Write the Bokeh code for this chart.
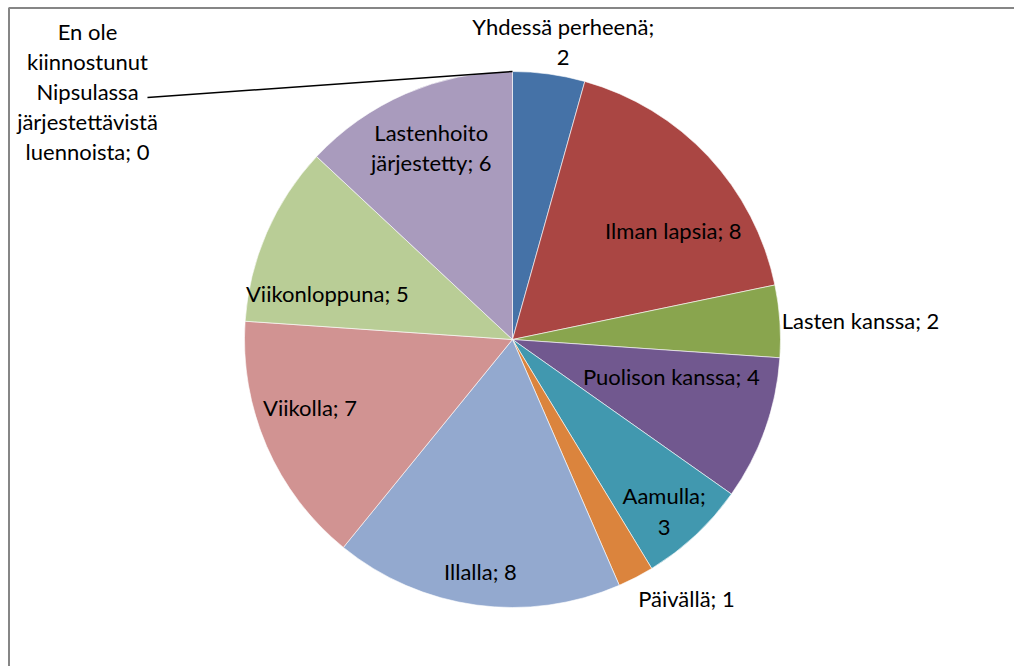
import math
from bokeh.plotting import figure
from bokeh.models import Range1d, ColumnDataSource
from bokeh.core.properties import value
from bokeh.embed import file_html
from bokeh.resources import INLINE

# ---- data ----
categories = ["Yhdessä perheenä", "Ilman lapsia", "Lasten kanssa", "Puolison kanssa",
              "Aamulla", "Päivällä", "Illalla", "Viikolla", "Viikonloppuna",
              "Lastenhoito järjestetty",
              "En ole kiinnostunut Nipsulassa järjestettävistä luennoista"]
values = [2, 8, 2, 4, 3, 1, 8, 7, 5, 6, 0]
label_texts = ["Yhdessä perheenä;\n2", "Ilman lapsia; 8", "Lasten kanssa; 2",
               "Puolison kanssa; 4", "Aamulla;\n3", "Päivällä; 1", "Illalla; 8",
               "Viikolla; 7", "Viikonloppuna; 5", "Lastenhoito\njärjestetty; 6",
               "En ole\nkiinnostunut\nNipsulassa\njärjestettävistä\nluennoista; 0"]
colors = ["#4572A7", "#AA4643", "#89A54E", "#71588F", "#4198AF", "#DB843D",
          "#93A9CF", "#D19392", "#B9CD96", "#A99BBD", "#2C4D75"]

# ---- layout (label placement, Excel "best fit" imitation) ----
W, H = 1014, 666
cx, cy, R = 512, 327, 268
label_rf = [1.12, 0.72, 1.30, 0.61, 0.86, 1.17, 0.88, 0.80, 0.71, 0.77]
label_dth = [1.9, 9.5, 1.1, -5.8, 1.9, -6.3, 0.0, 4.3, -10.2, 0.3]
label_dy = 2
zero_label_xy = (87, 575)       # outside label for the zero slice
leader_end = (147, 569)

total = float(sum(values))
starts, ends, mids, wcols = [], [], [], []
cum = 0.0
for v, c in zip(values, colors):
    a0 = cum / total * 360.0
    cum += v
    a1 = cum / total * 360.0
    mids.append((a0 + a1) / 2.0)
    if v > 0:
        starts.append(math.radians(90 - a0))
        ends.append(math.radians(90 - a1))
        wcols.append(c)

p = figure(width=W, height=H, output_backend="svg", toolbar_location=None,
           x_range=Range1d(0, W), y_range=Range1d(0, H), min_border=0)
p.axis.visible = False
p.xgrid.visible = False
p.ygrid.visible = False
p.outline_line_color = None
p.background_fill_color = "white"

# chart-area border (top and left edges visible in the reference)
p.line(x=[8.5, 8.5, W], y=[0, H - 7.5, H - 7.5], line_color="#868686", line_width=2)

src = ColumnDataSource(dict(start=starts, end=ends, color=wcols))
p.wedge(x=cx, y=cy, radius=R, start_angle="start", end_angle="end",
        direction="clock", fill_color="color", line_color="white",
        line_width=0.6, source=src)

lx, ly = [], []
for i in range(len(values) - 1):
    th = math.radians(mids[i] + label_dth[i])
    d = R * label_rf[i]
    lx.append(cx + d * math.sin(th))
    ly.append(cy + d * math.cos(th) + label_dy)
lx.append(zero_label_xy[0])
ly.append(zero_label_xy[1])

# leader line for zero-value slice
th0 = math.radians(mids[-1])
p.line(x=[leader_end[0], cx + R * math.sin(th0)],
       y=[leader_end[1], cy + R * math.cos(th0)], line_color="black", line_width=1.5)

tsrc = ColumnDataSource(dict(x=lx, y=ly, t=label_texts))
p.text(x="x", y="y", text="t", source=tsrc, text_align="center",
       text_baseline="middle", text_font=value("Lato"), text_font_size="22px",
       text_color="black", text_line_height=1.12)

open("out.html", "w").write(file_html(p, INLINE))
